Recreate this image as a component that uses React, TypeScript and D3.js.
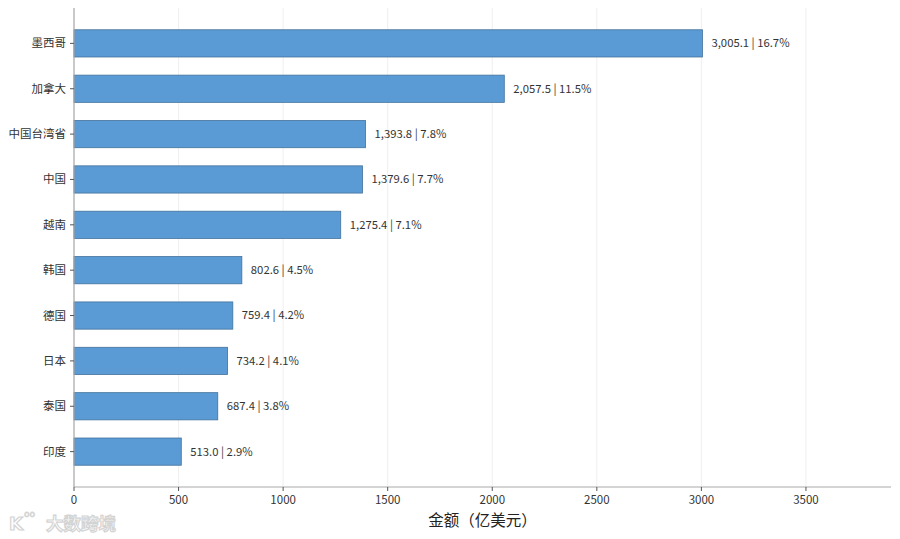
import * as React from "react";
import * as d3 from "d3";

const countries = ["墨西哥", "加拿大", "中国台湾省", "中国", "越南", "韩国", "德国", "日本", "泰国", "印度"];
const amounts = [3005.1, 2057.5, 1393.8, 1379.6, 1275.4, 802.6, 759.4, 734.2, 687.4, 513.0];
const shares = [16.7, 11.5, 7.8, 7.7, 7.1, 4.5, 4.2, 4.1, 3.8, 2.9];
const xTicks = [0, 500, 1000, 1500, 2000, 2500, 3000, 3500];

const W = 900;
const H = 539;
const margin = { top: 8, right: 9, bottom: 52, left: 74 };
const FONT = "'Noto Sans CJK SC', 'Noto Sans', sans-serif";

const App: React.FC = () => {
    const innerW = W - margin.left - margin.right;
    const innerH = H - margin.top - margin.bottom;

    const x = d3.scaleLinear()
        .domain([0, (d3.max(amounts) || 0) * 1.3])
        .range([0, innerW]);

    const y = d3.scaleBand()
        .domain(countries)
        .range([0, innerH])
        .paddingInner(0.4)
        .paddingOuter(0.48);

    const fmt = d3.format(",.1f");

    return (
        <svg width={W} height={H} style={{ display: "block", position: "absolute", left: 0, top: 0 }} fontFamily={FONT}>
            <rect width={W} height={H} fill="#ffffff" />
            <g transform={`translate(${margin.left},${margin.top})`}>
                {/* grid */}
                {xTicks.map(t => (
                    <line key={"g" + t} x1={x(t)} x2={x(t)} y1={0} y2={innerH} stroke="#ebebeb" strokeWidth={0.8} />
                ))}

                {/* bars */}
                {countries.map((c, i) => (
                    <rect
                        key={c}
                        x={0}
                        y={y(c)!}
                        width={x(amounts[i])}
                        height={y.bandwidth()}
                        fill="#5B9BD5"
                        stroke="#41719C"
                        strokeWidth={0.8}
                    />
                ))}

                {/* value labels */}
                {countries.map((c, i) => (
                    <text
                        key={"l" + c}
                        x={x(amounts[i]) + 9}
                        y={y(c)! + y.bandwidth() / 2}
                        dy="0.35em"
                        fontSize={11.3}
                        fill="#333333"
                        style={{ whiteSpace: "pre" }}
                    >
                        {`${fmt(amounts[i])} | ${shares[i].toFixed(1)}%`}
                    </text>
                ))}

                {/* y axis */}
                <line x1={0} x2={0} y1={0} y2={innerH} stroke="#aaaaaa" strokeWidth={1.2} />
                {countries.map(c => (
                    <g key={"y" + c} transform={`translate(0,${y(c)! + y.bandwidth() / 2})`}>
                        <line x1={-4} x2={0} stroke="#555555" strokeWidth={1} />
                        <text x={-8} dy="0.35em" textAnchor="end" fontSize={11.5} fill="#333333">{c}</text>
                    </g>
                ))}

                {/* x axis */}
                <line x1={0} x2={innerW} y1={innerH} y2={innerH} stroke="#aaaaaa" strokeWidth={1.2} />
                {xTicks.map(t => (
                    <g key={"x" + t} transform={`translate(${x(t)},${innerH})`}>
                        <line y1={0} y2={4} stroke="#555555" strokeWidth={1} />
                        <text y={13} dy="0.35em" textAnchor="middle" fontSize={11.5} fill="#333333">{t}</text>
                    </g>
                ))}
                <text x={innerW / 2} y={innerH + 34} dy="0.35em" textAnchor="middle" fontSize={15.5} fill="#222222">
                    金额（亿美元）
                </text>
            </g>

            {/* watermark */}
            <g opacity={0.9}>
                <text x={9} y={530} fontSize={18} fontWeight="bold" fill="#ffffff" stroke="#cfcfcf" strokeWidth={1.2} fontFamily="'DejaVu Sans', sans-serif">K</text>
                <text x={24} y={517} fontSize={9} fill="#ffffff" stroke="#cfcfcf" strokeWidth={0.8} fontFamily="'DejaVu Sans', sans-serif">oo</text>
                <text x={46} y={530} fontSize={17.5} fontWeight="bold" fill="#ffffff" stroke="#cfcfcf" strokeWidth={1.2}>大数跨境</text>
            </g>
        </svg>
    );
};

export default App;
